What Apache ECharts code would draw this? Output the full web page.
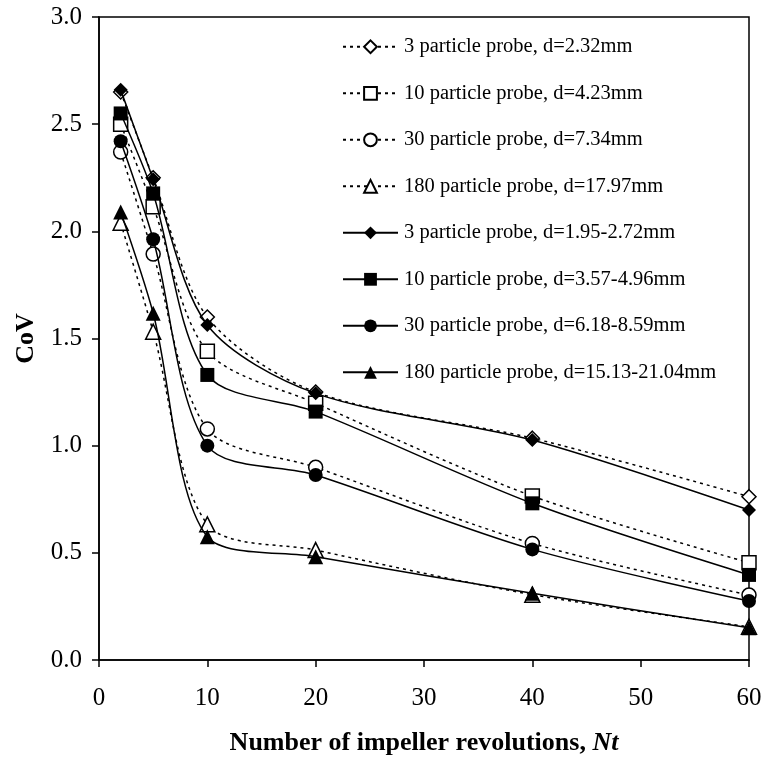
<!DOCTYPE html>
<html>
<head>
<meta charset="utf-8">
<script src="https://cdn.jsdelivr.net/npm/echarts@6/dist/echarts.min.js"></script>
<style>
html,body{margin:0;padding:0;background:#fff;}
#chart{width:762px;height:757px;}
</style>
</head>
<body>
<div id="chart"></div>
<script>
var xValues = [2, 5, 10, 20, 40, 60];
var sim3   = [2.65, 2.25, 1.60, 1.25, 1.035, 0.762];
var sim10  = [2.50, 2.115, 1.44, 1.198, 0.765, 0.454];
var sim30  = [2.37, 1.894, 1.078, 0.899, 0.544, 0.303];
var sim180 = [2.04, 1.532, 0.633, 0.513, 0.305, 0.155];
var exp3   = [2.66, 2.243, 1.563, 1.244, 1.026, 0.700];
var exp10  = [2.55, 2.177, 1.330, 1.159, 0.731, 0.397];
var exp30  = [2.42, 1.963, 1.000, 0.863, 0.516, 0.275];
var exp180 = [2.09, 1.618, 0.575, 0.482, 0.311, 0.150];
var seriesNames = [
  '3 particle probe, d=2.32mm',
  '10 particle probe, d=4.23mm',
  '30 particle probe, d=7.34mm',
  '180 particle probe, d=17.97mm',
  '3 particle probe, d=1.95-2.72mm',
  '10 particle probe, d=3.57-4.96mm',
  '30 particle probe, d=6.18-8.59mm',
  '180 particle probe, d=15.13-21.04mm'
];
var seriesValues = [sim3, sim10, sim30, sim180, exp3, exp10, exp30, exp180];
var symbols = ['diamond', 'rect', 'circle', 'triangle', 'diamond', 'rect', 'circle', 'triangle'];
var xTicks = [0, 10, 20, 30, 40, 50, 60];
var yTicks = [0, 0.5, 1.0, 1.5, 2.0, 2.5, 3.0];

var FONT = "'Liberation Serif', 'Times New Roman', serif";

function pairs(vals) {
  return xValues.map(function (x, i) { return [x, vals[i]]; });
}

var series = seriesValues.map(function (vals, i) {
  var open = i < 4;
  return {
    name: seriesNames[i],
    type: 'line',
    data: pairs(vals),
    smooth: 0.3,
    symbol: symbols[i],
    symbolSize: symbols[i] === 'triangle' ? 15 : 14,
    showAllSymbol: true,
    z: open ? 2 : 3,
    lineStyle: { color: '#000', width: 1.5, type: open ? [3, 4] : 'solid' },
    itemStyle: open ? { color: '#fff', borderColor: '#000', borderWidth: 1.5 } : { color: '#000', borderColor: '#000', borderWidth: 0 },
    emphasis: { disabled: true }
  };
});

var chart = echarts.init(document.getElementById('chart'), null, { renderer: 'canvas' });
chart.setOption({
  animation: false,
  backgroundColor: '#fff',
  textStyle: { fontFamily: FONT },
  grid: { left: 99, right: 13, top: 17, bottom: 97, containLabel: false, outerBoundsMode: 'none', show: true, borderColor: '#000', borderWidth: 1.5, backgroundColor: 'transparent' },
  legend: {
    orient: 'vertical',
    left: 342,
    top: 36.3,
    padding: 0,
    itemWidth: 55,
    itemHeight: 16,
    itemGap: 25.5,
    selectedMode: false,
    data: seriesNames,
    textStyle: { fontFamily: FONT, fontSize: 20.5, color: '#000', padding: [0, 0, 0, 1] }
  },
  xAxis: {
    type: 'value',
    min: xTicks[0],
    max: xTicks[xTicks.length - 1],
    interval: 10,
    name: 'Number of impeller revolutions, {i|Nt}',
    nameLocation: 'middle',
    nameGap: 70,
    nameTextStyle: {
      fontFamily: FONT, fontSize: 26, fontWeight: 'bold', color: '#000',
      rich: { i: { fontFamily: FONT, fontSize: 26, fontWeight: 'bold', fontStyle: 'italic', color: '#000' } }
    },
    axisLine: { show: true, lineStyle: { color: '#000', width: 1.5 } },
    axisTick: { show: true, inside: false, length: 7, lineStyle: { color: '#000', width: 1.5 } },
    axisLabel: { fontFamily: FONT, fontSize: 25, color: '#000', margin: 26 },
    splitLine: { show: false }
  },
  yAxis: {
    type: 'value',
    min: yTicks[0],
    max: yTicks[yTicks.length - 1],
    interval: 0.5,
    name: 'CoV',
    nameLocation: 'middle',
    nameRotate: 90,
    nameGap: 60,
    nameTextStyle: { fontFamily: FONT, fontSize: 26, fontWeight: 'bold', color: '#000' },
    axisLine: { show: true, lineStyle: { color: '#000', width: 1.5 } },
    axisTick: { show: true, inside: false, length: 7, lineStyle: { color: '#000', width: 1.5 } },
    axisLabel: { fontFamily: FONT, fontSize: 25, color: '#000', margin: 17, formatter: function (v) { return v.toFixed(1); } },
    splitLine: { show: false }
  },
  series: series
});
</script>
</body>
</html>
